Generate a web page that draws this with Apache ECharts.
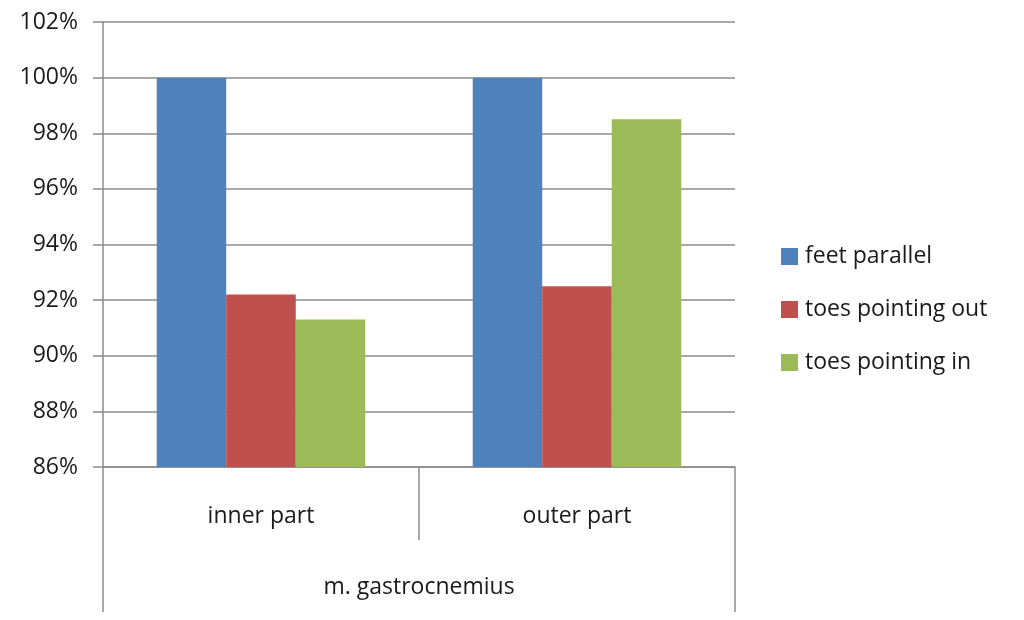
<!DOCTYPE html>
<html>
<head>
<meta charset="utf-8">
<script src="https://cdn.jsdelivr.net/npm/echarts@6/dist/echarts.min.js"></script>
<style>
  html, body { margin: 0; padding: 0; background: #fff; }
  #chart { width: 1024px; height: 620px; }
</style>
</head>
<body>
<div id="chart"></div>
<script>
const categories = ['inner part', 'outer part'];
const groupLabels = ['m. gastrocnemius'];
const seriesNames = ['feet parallel', 'toes pointing out', 'toes pointing in'];
const feetParallel = [100, 100];
const toesOut = [92.2, 92.5];
const toesIn = [91.3, 98.5];
const yMin = 86;
const yMax = 102;
const yStep = 2;

const colors = ['#4f81bd', '#c0504d', '#9bbb59'];
const lineColor = '#8c8c8c';
const textColor = '#1a1a1a';
const fontFamily = '"Open Sans", "Noto Sans", sans-serif';
const fontSize = 23;

const chart = echarts.init(document.getElementById('chart'));

function bar(name, data, color) {
  return {
    name: name,
    type: 'bar',
    data: data,
    barGap: '0%',
    barCategoryGap: '34%',
    itemStyle: { color: color },
    emphasis: { disabled: true }
  };
}

chart.setOption({
  animation: false,
  backgroundColor: '#fff',
  textStyle: { fontFamily: fontFamily },
  grid: { left: 103, right: 289, top: 22, bottom: 153 },
  legend: {
    orient: 'vertical',
    left: 776,
    top: 240,
    itemWidth: 17,
    itemHeight: 17,
    itemGap: 30,
    icon: 'rect',
    data: seriesNames,
    textStyle: {
      fontSize: fontSize,
      lineHeight: 23,
      color: textColor,
      fontFamily: fontFamily,
      padding: [0, 0, 0, 2]
    }
  },
  xAxis: [
    {
      type: 'category',
      data: categories,
      position: 'bottom',
      axisLine: { show: true, lineStyle: { color: lineColor, width: 1.5 } },
      axisTick: { show: true, length: 73, lineStyle: { color: lineColor, width: 1.5 } },
      axisLabel: { margin: 38, fontSize: fontSize, color: textColor, fontFamily: fontFamily }
    },
    {
      type: 'category',
      data: groupLabels,
      position: 'bottom',
      axisLine: { show: false },
      axisTick: { show: true, length: 145, lineStyle: { color: lineColor, width: 1.5 } },
      axisLabel: { margin: 109, fontSize: fontSize, color: textColor, fontFamily: fontFamily }
    }
  ],
  yAxis: {
    type: 'value',
    min: yMin,
    max: yMax,
    interval: yStep,
    axisLine: { show: true, lineStyle: { color: lineColor, width: 1.5 } },
    axisTick: { show: true, length: 10, lineStyle: { color: lineColor, width: 1.5 } },
    axisLabel: {
      formatter: '{value}%',
      margin: 25,
      fontSize: fontSize,
      color: textColor,
      fontFamily: fontFamily
    },
    splitLine: { show: true, lineStyle: { color: lineColor, width: 1.5 } }
  },
  series: [
    bar(seriesNames[0], feetParallel, colors[0]),
    bar(seriesNames[1], toesOut, colors[1]),
    bar(seriesNames[2], toesIn, colors[2])
  ]
});
</script>
</body>
</html>
